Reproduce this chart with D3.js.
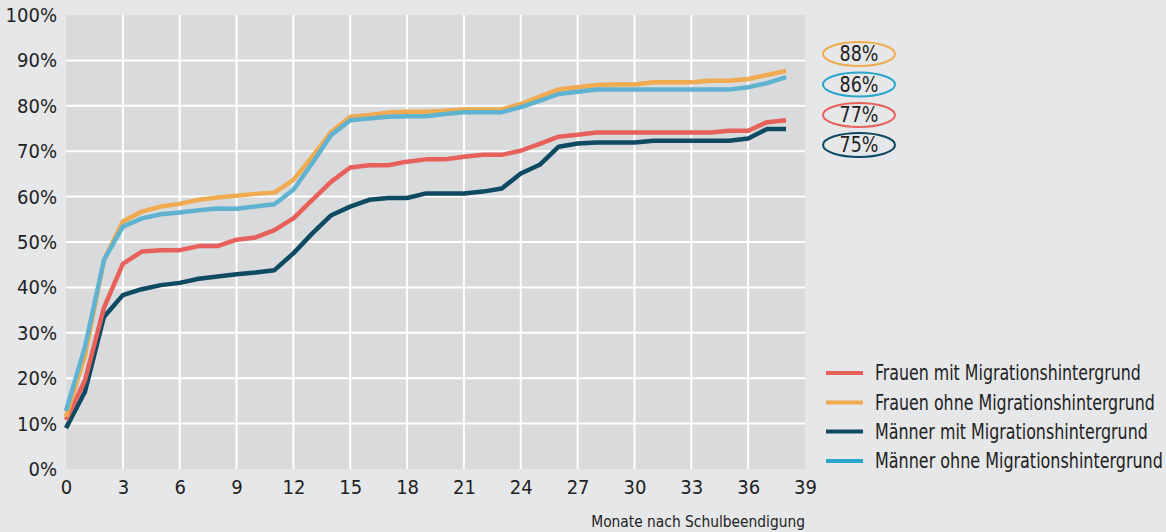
<!DOCTYPE html>
<html>
<head>
<meta charset="utf-8">
<script src="https://cdn.jsdelivr.net/npm/d3@7"></script>
<style>
  html, body { margin: 0; padding: 0; background: #e6e7e9; }
  svg { display: block; }
  text { font-family: "Liberation Sans Narrow", "DejaVu Sans Condensed", "Noto Sans", sans-serif; fill: #222; }
</style>
</head>
<body>
<svg id="chart" width="1166" height="532"></svg>
<script>
const months = [0,1,2,3,4,5,6,7,8,9,10,11,12,13,14,15,16,17,18,19,20,21,22,23,24,25,26,27,28,29,30,31,32,33,34,35,36,37,38];

const frauenMit = [10.8,19.5,35.5,45.2,47.9,48.2,48.2,49.1,49.1,50.5,51.0,52.6,55.2,59.3,63.3,66.4,66.9,66.9,67.7,68.2,68.2,68.8,69.2,69.2,70.1,71.6,73.2,73.6,74.1,74.1,74.1,74.1,74.1,74.1,74.1,74.5,74.5,76.4,76.8];
const frauenOhne = [11.5,25.0,46.0,54.5,56.7,57.8,58.4,59.3,59.8,60.2,60.6,60.9,63.7,68.8,74.3,77.6,78.0,78.5,78.7,78.7,78.9,79.2,79.2,79.2,80.4,82.0,83.6,84.1,84.6,84.7,84.7,85.2,85.2,85.2,85.5,85.5,85.9,86.8,87.7];
const maennerMit = [9.0,17.0,33.5,38.3,39.6,40.5,41.0,41.9,42.4,42.9,43.3,43.8,47.5,51.9,55.9,57.8,59.3,59.7,59.7,60.7,60.7,60.7,61.1,61.8,65.1,67.0,71.0,71.7,71.9,71.9,71.9,72.3,72.3,72.3,72.3,72.3,72.8,74.9,74.9];
const maennerOhne = [12.8,26.9,46.0,53.4,55.2,56.1,56.5,57.0,57.4,57.3,57.8,58.3,61.5,67.4,73.6,76.8,77.2,77.6,77.7,77.7,78.2,78.6,78.6,78.6,79.7,81.1,82.6,83.1,83.6,83.6,83.6,83.6,83.6,83.6,83.6,83.6,84.1,85.0,86.3];

const seriesNames = ["Frauen mit Migrationshintergrund","Frauen ohne Migrationshintergrund","Männer mit Migrationshintergrund","Männer ohne Migrationshintergrund"];
const seriesColors = ["#e8605a","#f0aa50","#0f4a63","#5fb3d0"];
const legendColors = ["#e8605a","#f0aa50","#0f4a63","#2ba6cb"];
const xTicks = [0,3,6,9,12,15,18,21,24,27,30,33,36,39];
const yTicks = [0,10,20,30,40,50,60,70,80,90,100];
const endLabels = ["88%","86%","77%","75%"];
const endColors = ["#f0aa50","#2ba6cb","#e8605a","#0f4a63"];
const xTitle = "Monate nach Schulbeendigung";

const seriesValues = [frauenMit, frauenOhne, maennerMit, maennerOhne];

const svg = d3.select("#chart");
const x = d3.scaleLinear().domain([0, 39]).range([66, 805]);
const y = d3.scaleLinear().domain([0, 100]).range([469, 15]);

// place a text at (px,py) with given anchor, compressed horizontally to at most width w
function placeText(parent, str, px, py, anchor, size, w) {
  const g = parent.append("g");
  const t = g.append("text")
    .attr("x", 0).attr("y", 0)
    .attr("dy", "0.35em")
    .attr("text-anchor", anchor)
    .attr("font-size", size)
    .text(str);
  const len = t.node().getComputedTextLength();
  const k = len > w ? w / len : 1;
  g.attr("transform", `translate(${px},${py}) scale(${k},1)`);
  return g;
}

// plot background
svg.append("rect")
  .attr("x", x(0)).attr("y", y(100))
  .attr("width", x(39) - x(0)).attr("height", y(0) - y(100))
  .attr("fill", "#d9dadc");

// gridlines
const grid = svg.append("g");
grid.selectAll("line.h").data(yTicks.filter(d => d > 0 && d < 100)).enter().append("line")
  .attr("x1", x(0)).attr("x2", x(39))
  .attr("y1", d => y(d)).attr("y2", d => y(d))
  .attr("stroke", "#ffffff").attr("stroke-width", 2);
grid.selectAll("line.v").data(xTicks.filter(d => d > 0 && d < 39)).enter().append("line")
  .attr("y1", y(0)).attr("y2", y(100))
  .attr("x1", d => x(d)).attr("x2", d => x(d))
  .attr("stroke", "#ffffff").attr("stroke-width", 2);

// axes
const yAxis = d3.axisLeft(y).tickValues(yTicks).tickFormat(d => d + "%").tickSize(0).tickPadding(9);
const yg = svg.append("g").attr("transform", `translate(${x(0)},0)`).call(yAxis);
yg.select(".domain").remove();
yg.selectAll("text").attr("font-size", 20).style("fill", "#222");

const xAxis = d3.axisBottom(x).tickValues(xTicks).tickSize(0).tickPadding(11);
const xg = svg.append("g").attr("transform", `translate(0,${y(0)})`).call(xAxis);
xg.select(".domain").remove();
xg.selectAll("text").attr("font-size", 20).style("fill", "#222");

placeText(svg, xTitle, x(39), 521, "end", 16, 214);

// lines
const line = d3.line().x((d, i) => x(months[i])).y(d => y(d));
const order = [2, 0, 1, 3];
svg.append("g").selectAll("path").data(order).enter().append("path")
  .attr("d", i => line(seriesValues[i]))
  .attr("fill", "none")
  .attr("stroke", i => seriesColors[i])
  .attr("stroke-width", 4.5)
  .attr("stroke-linejoin", "round");

// end labels in ellipses
const endY = [54, 84.5, 115, 145];
const eg = svg.append("g");
endLabels.forEach((lbl, i) => {
  eg.append("ellipse")
    .attr("cx", 859).attr("cy", endY[i])
    .attr("rx", 36).attr("ry", 12)
    .attr("fill", "none")
    .attr("stroke", endColors[i])
    .attr("stroke-width", 2);
  placeText(eg, lbl, 859, endY[i], "middle", 21, 39);
});

// legend
const legY = [373, 402.5, 431.5, 461];
const legW = [266, 280, 273, 288];
const lg = svg.append("g");
seriesNames.forEach((name, i) => {
  lg.append("line")
    .attr("x1", 826).attr("x2", 863)
    .attr("y1", legY[i]).attr("y2", legY[i])
    .attr("stroke", legendColors[i]).attr("stroke-width", 4);
  placeText(lg, name, 875, legY[i], "start", 21, legW[i]);
});
</script>
</body>
</html>
